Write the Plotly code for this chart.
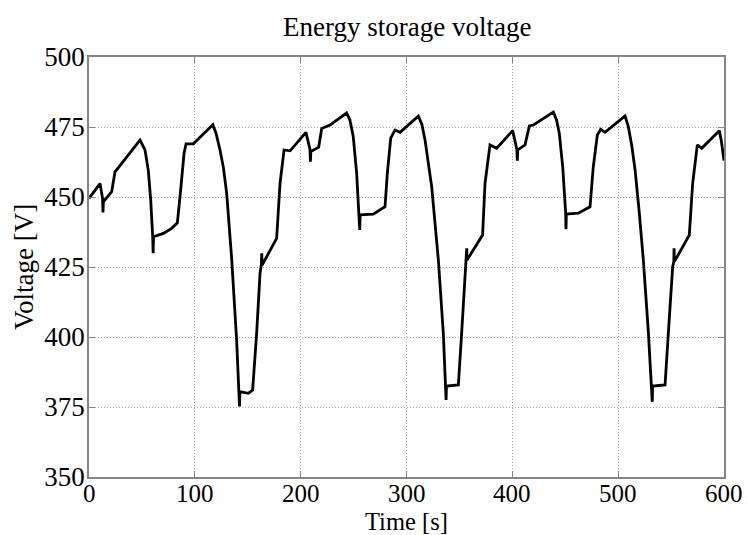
import plotly.graph_objects as go

# Energy storage voltage trace (time in s, voltage in V)
time_s = [
    0, 10.4, 12.8, 13.2, 13.6, 21.4, 24.6, 48.2, 52.9, 56.0, 58.3, 60.2, 60.6, 61.0,
    70.2, 78.1, 83.5, 86.6, 89.8, 91.7, 98.6, 117.0, 120.0, 123.8, 127.0, 130.1,
    134.8, 139.5, 141.8, 142.2, 142.6, 150.5, 154.6, 158.4, 161.6, 162.9, 163.2,
    163.6, 177.3, 180.5, 184.3, 190.0, 205.0, 208.8, 209.2, 209.6, 217.0, 219.9,
    227.7, 243.4, 246.5, 249.7, 252.9, 255.4, 255.8, 256.2, 268.6, 279.7, 281.9,
    285.1, 289.1, 293.9, 311.2, 314.5, 317.5, 323.8, 330.1, 334.8, 337.1, 337.4,
    337.8, 349.0, 352.1, 355.3, 356.6, 356.9, 357.2, 371.9, 374.2, 378.9, 385.2,
    400.3, 404.3, 404.7, 405.1, 412.0, 416.1, 419.9, 438.8, 441.8, 444.4, 447.6,
    450.4, 450.7, 451.0, 462.3, 473.4, 476.5, 480.3, 483.5, 487.6, 506.5, 509.6,
    512.8, 516.0, 519.8, 523.8, 528.6, 531.7, 532.2, 532.6, 544.3, 547.4, 551.5,
    552.6, 552.8, 553.1, 567.2, 570.4, 574.8, 578.9, 595.6, 597.5, 600.0,
]
voltage_v = [
    449.5, 454.8, 449.5, 444.5, 448.3, 451.9, 459.0, 470.3, 466.8, 459.6, 449.0, 435.8, 429.9, 435.8,
    437.0, 438.8, 440.8, 452.5, 465.6, 469.0, 469.0, 475.8, 472.8, 466.8, 460.5, 451.3,
    428.0, 398.9, 381.5, 375.2, 380.5, 379.9, 381.0, 401.3, 422.8, 426.0, 429.9,
    425.7, 435.2, 454.9, 466.8, 466.5, 473.1, 467.0, 462.6, 466.2, 467.8, 474.5,
    475.7, 480.0, 477.5, 471.5, 458.5, 444.2, 438.2, 443.6, 443.9, 446.5, 458.5,
    471.0, 473.9, 473.1, 478.9, 476.0, 470.4, 453.7, 427.5, 401.3, 383.0, 377.5,
    382.5, 382.9, 401.3, 419.2, 427.0, 431.7, 427.5, 436.4, 454.9, 468.6, 467.4,
    473.7, 467.0, 463.0, 466.8, 468.6, 475.4, 475.7, 480.3, 477.5, 472.7, 460.8,
    444.2, 438.5, 443.9, 444.2, 446.5, 460.8, 472.1, 474.2, 473.1, 479.0, 475.1,
    468.5, 459.6, 445.0, 427.5, 401.3, 382.9, 376.9, 382.5, 382.9, 401.3, 425.1,
    427.0, 431.7, 426.9, 436.4, 454.9, 468.6, 467.4, 473.7, 470.0, 463.0,
]

x_ticks = [0, 100, 200, 300, 400, 500, 600]
y_ticks = [350, 375, 400, 425, 450, 475, 500]

serif = "Liberation Serif, Times New Roman, serif"
frame = "#858585"
grid = "#a8a8a8"
font_px = 27

fig = go.Figure(
    go.Scatter(
        x=time_s, y=voltage_v, mode="lines",
        line=dict(color="black", width=2.8),
        showlegend=False,
    )
)

axis_common = dict(
    showline=True, linecolor=frame, linewidth=1.5, mirror="ticks",
    ticks="inside", ticklen=6, tickcolor=frame, tickwidth=1,
    showgrid=True, gridcolor=grid, griddash="1px,2px", gridwidth=1,
    zeroline=False,
)

# x tick labels are placed as annotations (tighter to the axis than the default)
fig.update_xaxes(range=[0, 600], tickvals=x_ticks, showticklabels=False, **axis_common)
fig.update_yaxes(range=[350, 500], tickvals=y_ticks, ticklabelstandoff=-3,
                 tickfont=dict(family=serif, size=font_px, color="black"), **axis_common)

annotations = [
    dict(text=str(t), xref="x", yref="paper", x=t, y=0, yshift=-16.5,
         xanchor="center", yanchor="middle", showarrow=False, borderpad=0,
         font=dict(family=serif, size=25, color="black"))
    for t in x_ticks
]
annotations += [
    dict(text="Energy storage voltage", xref="paper", yref="paper",
         x=0.5, y=1, yshift=30, xanchor="center", yanchor="middle",
         showarrow=False, borderpad=0,
         font=dict(family=serif, size=font_px, color="black")),
    dict(text="Time [s]", xref="paper", yref="paper",
         x=0.5, y=0, yshift=-44.5, xanchor="center", yanchor="middle",
         showarrow=False, borderpad=0,
         font=dict(family=serif, size=24.5, color="black")),
    dict(text="Voltage [V]", xref="paper", yref="paper",
         x=-65 / 635, y=0.5, xanchor="center", yanchor="middle",
         textangle=-90, showarrow=False, borderpad=0,
         font=dict(family=serif, size=font_px, color="black")),
]

fig.update_layout(
    width=748, height=535,
    margin=dict(l=89, r=24, t=57, b=58),
    paper_bgcolor="white", plot_bgcolor="white",
    font=dict(family=serif, color="black"),
    annotations=annotations,
)

fig.write_html("out.html")
